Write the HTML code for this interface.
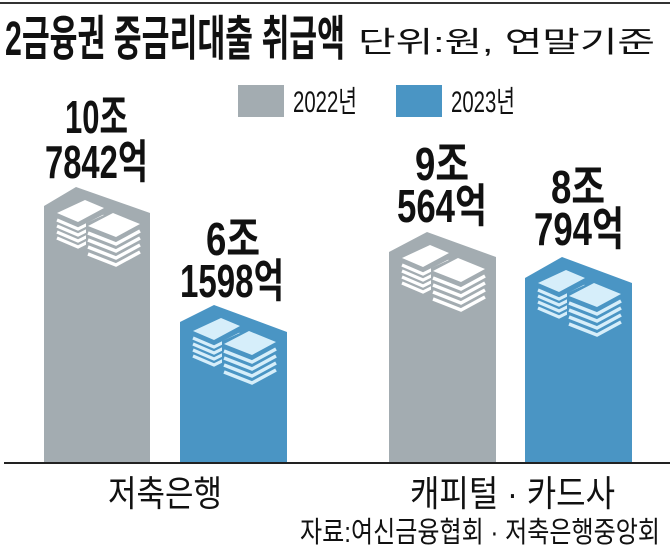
<!DOCTYPE html>
<html><head><meta charset="utf-8"><style>
html,body{margin:0;padding:0;background:#fff}
svg{display:block}
text{font-family:"Liberation Sans","Noto Sans CJK KR",sans-serif;fill:#111}
</style></head><body>
<svg width="670" height="551" viewBox="0 0 670 551" xmlns="http://www.w3.org/2000/svg">
<defs>
<g id="icoG">
  <polygon points="13,26 41,13 60,21 60,40 34,54 13,44" fill="#a3acb1"/>
  <g fill="none" stroke="#fff" stroke-width="3.2">
    <polyline points="13,33 34,42 60,29"/>
    <polyline points="13,39 34,48 60,35"/>
    <polyline points="13,45 34,54 60,41"/>
    <polyline points="13,51 34,60 60,47"/>
  </g>
  <polygon points="13,26 41,13 60,21 34,35" fill="#fff"/>
  <polygon points="42,36 69,24 99,36 99,68 72,82 42,70" fill="#a3acb1"/>
  <polygon points="44,39 69,26 96,37 72,50" fill="#fff"/>
  <g fill="none" stroke="#fff" stroke-width="3.4">
    <polyline points="44,46 72,57 96,44"/>
    <polyline points="44,53 72,64 96,51"/>
    <polyline points="44,60 72,71 96,58"/>
    <polyline points="44,67 72,78 96,65"/>
  </g>
</g>
<g id="icoB">
  <polygon points="13,26 41,13 60,21 60,40 34,54 13,44" fill="#4a95c4"/>
  <g fill="none" stroke="#d6eefa" stroke-width="3.2">
    <polyline points="13,33 34,42 60,29"/>
    <polyline points="13,39 34,48 60,35"/>
    <polyline points="13,45 34,54 60,41"/>
    <polyline points="13,51 34,60 60,47"/>
  </g>
  <polygon points="13,26 41,13 60,21 34,35" fill="#d6eefa"/>
  <polygon points="42,36 69,24 99,36 99,68 72,82 42,70" fill="#4a95c4"/>
  <polygon points="44,39 69,26 96,37 72,50" fill="#d6eefa"/>
  <g fill="none" stroke="#d6eefa" stroke-width="3.4">
    <polyline points="44,46 72,57 96,44"/>
    <polyline points="44,53 72,64 96,51"/>
    <polyline points="44,60 72,71 96,58"/>
    <polyline points="44,67 72,78 96,65"/>
  </g>
</g>
</defs>
<rect x="0" y="2" width="670" height="2" fill="#333"/>
<text x="5" y="55" font-size="48" font-weight="bold" textLength="340" lengthAdjust="spacingAndGlyphs">2금융권 중금리대출 취급액</text>
<text x="358" y="52" font-size="29" textLength="297" lengthAdjust="spacingAndGlyphs">단위:원, 연말기준</text>
<rect x="238" y="85" width="46" height="32" fill="#a3acb1"/>
<text x="293" y="112" font-size="30" textLength="64" lengthAdjust="spacingAndGlyphs">2022년</text>
<rect x="396" y="85" width="46" height="32" fill="#4a95c4"/>
<text x="451" y="112" font-size="30" textLength="64" lengthAdjust="spacingAndGlyphs">2023년</text>

<polygon points="44,206 76,187 150,213 150,463 44,463" fill="#a3acb1"/>
<use href="#icoG" transform="translate(44,187)"/>
<polygon points="180,322 214,305 287,332 287,463 180,463" fill="#4a95c4"/>
<use href="#icoB" transform="translate(180,305)"/>
<polygon points="389,252 427,232 496,257 496,463 389,463" fill="#a3acb1"/>
<use href="#icoG" transform="translate(389,232)"/>
<polygon points="525,278 562,257 632,283 632,463 525,463" fill="#4a95c4"/>
<use href="#icoB" transform="translate(525,257)"/>

<g font-size="46" font-weight="bold">
<text x="65" y="133" textLength="63" lengthAdjust="spacingAndGlyphs">10조</text>
<text x="45" y="178" textLength="103" lengthAdjust="spacingAndGlyphs">7842억</text>
<text x="206" y="255" textLength="54" lengthAdjust="spacingAndGlyphs">6조</text>
<text x="180" y="297" textLength="104" lengthAdjust="spacingAndGlyphs">1598억</text>
<text x="415" y="180" textLength="54" lengthAdjust="spacingAndGlyphs">9조</text>
<text x="397" y="222" textLength="90" lengthAdjust="spacingAndGlyphs">564억</text>
<text x="551" y="203" textLength="54" lengthAdjust="spacingAndGlyphs">8조</text>
<text x="534" y="245" textLength="90" lengthAdjust="spacingAndGlyphs">794억</text>
</g>

<rect x="4" y="462" width="666" height="2" fill="#222"/>
<text x="108" y="506" font-size="36" textLength="114" lengthAdjust="spacingAndGlyphs">저축은행</text>
<text x="410" y="506" font-size="36" textLength="205" lengthAdjust="spacingAndGlyphs">캐피털 · 카드사</text>
<text x="300" y="542" font-size="29" textLength="360" lengthAdjust="spacingAndGlyphs">자료:여신금융협회 · 저축은행중앙회</text>
</svg>
</body></html>
